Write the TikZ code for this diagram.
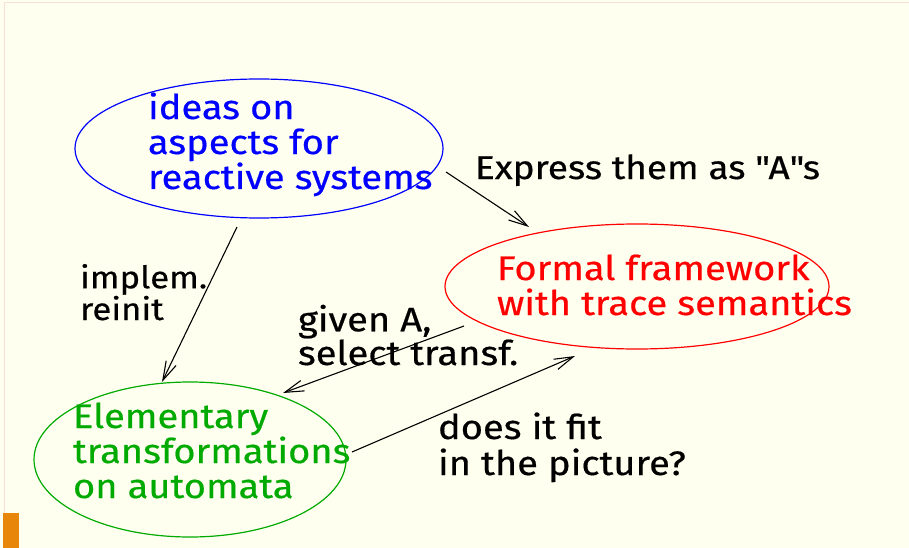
\documentclass[tikz,border=0pt]{standalone}
\usepackage{fontspec}
\setmainfont{Fira Sans}[FakeStretch=1.12,FakeBold=0.5]
\usetikzlibrary{arrows.meta,shapes.geometric}
\definecolor{bgivory}{RGB}{255,255,240}
\definecolor{framepink}{RGB}{248,224,216}
\definecolor{barorange}{RGB}{232,134,10}
\definecolor{dgreen}{RGB}{0,170,0}
\newcommand\straightqd{\XeTeXglyph\XeTeXglyphindex "quotedbl" \relax}
\tikzset{
  bubble/.style={ellipse, line width=1.2pt, inner sep=0pt, outer sep=0pt},
  txt/.style={anchor=base west, align=left, inner sep=0pt, outer sep=0pt},
  big/.style={font=\fontsize{34}{35}\selectfont},
  conn/.style={line width=1.1pt, -{Straight Barb[length=19pt,width=11pt,line width=1.1pt]}}
}
\begin{document}
\begin{tikzpicture}[x=1pt,y=-1pt]
\useasboundingbox (0,0) rectangle (909,548);
\fill[bgivory] (0,0) rectangle (909,548);
\draw[framepink, line width=1pt] (4,548) -- (4,3) -- (909,3);
\fill[barorange] (3,513) rectangle (19,548);

% ellipses
\node[bubble, draw=blue, minimum width=368pt, minimum height=139pt] (ideas) at (259,148.5) {};
\node[bubble, draw=red, minimum width=384pt, minimum height=125pt] (formal) at (637,286.5) {};
\node[bubble, draw=dgreen, minimum width=312pt, minimum height=155pt] (elem) at (190,459.5) {};

% texts (base anchor = baseline of last line)
\node[txt, big, text=blue] (ideasT) at (148,189) {ideas on\\aspects for\\reactive systems};
\node[txt, big, text=red] (formalT) at (497,315) {Formal framework\\with trace semantics};
\node[txt, big, text=dgreen] (elemT) at (73,498) {Elementary\\transformations\\on automata};
\node[txt, font=\fontsize{33}{35}\selectfont] (expr) at (475,179) {Express them as \straightqd A\straightqd s};
\node[txt, font=\fontsize{31}{30}\selectfont] (impl) at (80,320) {implem.\\reinit};
\node[txt, font=\fontsize{34}{30}\selectfont] (given) at (298,365) {given A,\\select transf.};
\node[txt, font=\fontsize{34}{36}\selectfont] (fit) at (438,475) {does it fit\\in the picture?};

% connector end points
\coordinate (ideasOutR) at (446,172);
\coordinate (formalInL) at (529,227);
\coordinate (ideasOutB) at (237,227);
\coordinate (elemInT) at (162,382);
\coordinate (formalOutB) at (464,326);
\coordinate (elemInR) at (283,393);
\coordinate (elemOutR) at (352,452);
\coordinate (formalInB) at (575,356);

\draw[conn] (ideasOutR) -- (formalInL);
\draw[conn] (ideasOutB) -- (elemInT);
\draw[conn] (formalOutB) -- (elemInR);
\draw[conn] (elemOutR) -- (formalInB);
\end{tikzpicture}
\end{document}
